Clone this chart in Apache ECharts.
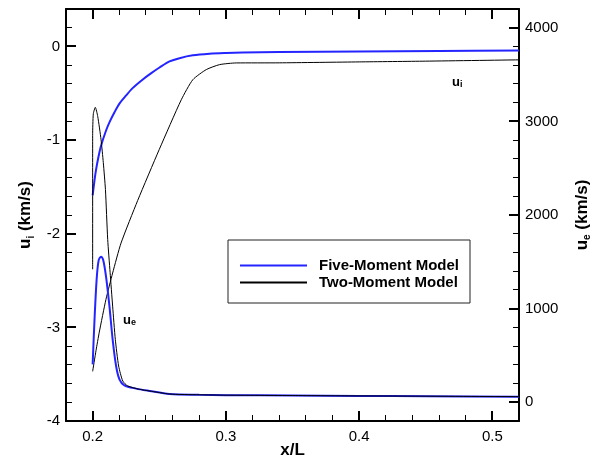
<!DOCTYPE html>
<html>
<head>
<meta charset="utf-8">
<script src="https://cdn.jsdelivr.net/npm/echarts@6/dist/echarts.min.js"></script>
<style>
html,body{margin:0;padding:0;background:#fff;}
#chart{width:602px;height:463px;background:#fff;}
</style>
</head>
<body>
<div id="chart"></div>
<script>
// ---- tick values ----
const xTickValues = [0.2, 0.3, 0.4, 0.5];
const xMinorTickValues = [0.18, 0.2, 0.22, 0.24, 0.26, 0.28, 0.3, 0.32, 0.34, 0.36, 0.38, 0.4, 0.42, 0.44, 0.46, 0.48, 0.5, 0.52];
const uiTickValues = [-4, -3, -2, -1, 0];
const uiMinorTickValues = [-4, -3.8, -3.6, -3.4, -3.2, -3, -2.8, -2.6, -2.4, -2.2, -2, -1.8, -1.6, -1.4, -1.2, -1, -0.8, -0.6, -0.4, -0.2, 0, 0.2, 0.4];
const ueTickValues = [0, 1000, 2000, 3000, 4000];
const ueMinorTickValues = [-200, 0, 200, 400, 600, 800, 1000, 1200, 1400, 1600, 1800, 2000, 2200, 2400, 2600, 2800, 3000, 3200, 3400, 3600, 3800, 4000, 4200];

// ---- series names ----
const seriesNames = ['Five-Moment Model', 'Two-Moment Model'];

// ---- Five-Moment u_i (km/s), left axis ----
const fiveUiX = [0.2, 0.2013, 0.2025, 0.2045, 0.2063, 0.2100, 0.2126, 0.2165, 0.2201, 0.2250, 0.2300, 0.2374, 0.2440, 0.2502, 0.2577, 0.2652, 0.2752, 0.2877, 0.3000, 0.3126, 0.3400, 0.4000, 0.4600, 0.5200];
const fiveUiY = [-1.59, -1.44, -1.32, -1.17, -1.06, -0.90, -0.81, -0.70, -0.61, -0.525, -0.445, -0.355, -0.285, -0.225, -0.16, -0.125, -0.095, -0.078, -0.070, -0.065, -0.060, -0.053, -0.048, -0.043];

// ---- Two-Moment u_i (km/s), left axis ----
const twoUiX = [0.2, 0.2025, 0.205, 0.21, 0.215, 0.2213, 0.2338, 0.2500, 0.2665, 0.2752, 0.2853, 0.2953, 0.3078, 0.34, 0.40, 0.45, 0.52];
const twoUiY = [-3.47, -3.25, -3.05, -2.70, -2.42, -2.10, -1.645, -1.10, -0.57, -0.355, -0.247, -0.194, -0.176, -0.175, -0.165, -0.157, -0.143];

// ---- Five-Moment u_e (km/s), right axis ----
const fiveUeX = [0.2, 0.2013, 0.203, 0.2045, 0.2063, 0.208, 0.21, 0.2126, 0.215, 0.2176, 0.2201, 0.2238, 0.2326, 0.2426, 0.2577, 0.28, 0.30, 0.35, 0.40, 0.45, 0.52];
const fiveUeY = [405, 850, 1312, 1515, 1555, 1515, 1347, 1027, 672, 387, 245, 181, 146, 121, 88, 80, 76, 72, 68, 65, 60];

// ---- Two-Moment u_e (km/s), right axis ----
const twoUeX = [0.2, 0.2, 0.2005, 0.202, 0.2038, 0.2063, 0.208, 0.2096, 0.2113, 0.2131, 0.215, 0.217, 0.2195, 0.2226, 0.2263, 0.235, 0.2426, 0.2577, 0.28, 0.30, 0.35, 0.40, 0.45, 0.52];
const twoUeY = [1420, 2850, 3080, 3150, 3054, 2805, 2560, 2272, 1739, 1387, 1027, 672, 387, 227, 174, 139, 121, 88, 80, 76, 72, 68, 65, 60];

const pairs = (xs, ys) => xs.map((x, i) => [x, ys[i]]);

const FONT = '"Liberation Sans", Arial, Helvetica, sans-serif';
const BLUE = '#2424ff';
const X_MIN = 0.18, X_MAX = 0.52;
const UI_MIN = -4, UI_MAX = 0.4;
const UE_MIN = -200, UE_MAX = 4200;

const chart = echarts.init(document.getElementById('chart'));

const axisLineStyle = {show: true, onZero: false, lineStyle: {color: '#000', width: 2}};

const nameRich = {
  a: {fontFamily: FONT, fontSize: 17, fontWeight: 'bold', color: '#000', lineHeight: 20},
  b: {fontFamily: FONT, fontSize: 10, fontWeight: 'bold', color: '#000', lineHeight: 8, verticalAlign: 'bottom'}
};
const labelRich = {
  a: {fontFamily: FONT, fontSize: 13, fontWeight: 'bold', fill: '#000', lineHeight: 14},
  b: {fontFamily: FONT, fontSize: 9, fontWeight: 'bold', fill: '#000', lineHeight: 5, verticalAlign: 'bottom'}
};

const option = {
  animation: false,
  grid: {left: 66, right: 83, top: 9, bottom: 42, containLabel: false, outerBoundsMode: 'none'},
  xAxis: [
    {
      type: 'value', position: 'bottom', min: X_MIN, max: X_MAX,
      axisLine: axisLineStyle,
      axisTick: {show: false},
      axisLabel: {show: true, customValues: xTickValues, formatter: v => v.toFixed(1), fontFamily: FONT, fontSize: 15, color: '#000', margin: 8},
      splitLine: {show: false},
      name: 'x/L', nameLocation: 'middle', nameGap: 21, nameMoveOverlap: false,
      nameTextStyle: {fontFamily: FONT, fontSize: 17, fontWeight: 'bold', color: '#000'}
    },
    {
      type: 'value', position: 'top', min: X_MIN, max: X_MAX,
      axisLine: axisLineStyle,
      axisTick: {show: false},
      axisLabel: {show: false},
      splitLine: {show: false}
    }
  ],
  yAxis: [
    {
      type: 'value', position: 'left', min: UI_MIN, max: UI_MAX,
      axisLine: axisLineStyle,
      axisTick: {show: false},
      axisLabel: {show: true, customValues: uiTickValues, formatter: v => String(v), fontFamily: FONT, fontSize: 15, color: '#000', margin: 6},
      splitLine: {show: false},
      name: '{a|u}{b|i}{a| (km/s)}',
      nameLocation: 'middle', nameGap: 30, nameRotate: 90,
      nameTextStyle: {rich: nameRich}
    },
    {
      type: 'value', position: 'right', min: UE_MIN, max: UE_MAX,
      axisLine: axisLineStyle,
      axisTick: {show: false},
      axisLabel: {show: true, customValues: ueTickValues, formatter: v => String(v), fontFamily: FONT, fontSize: 15, color: '#000', margin: 6},
      splitLine: {show: false},
      name: '{a|u}{b|e}{a| (km/s)}',
      nameLocation: 'middle', nameGap: 53, nameRotate: 90,
      nameTextStyle: {rich: nameRich}
    }
  ],
  legend: {
    show: true,
    data: seriesNames,
    orient: 'vertical',
    left: 228, top: 240,
    padding: [18, 11, 13, 11],
    itemWidth: 67, itemHeight: 14, itemGap: 2,
    borderColor: '#222', borderWidth: 1, backgroundColor: '#fff',
    selectedMode: false,
    itemStyle: {opacity: 0, borderWidth: 0},
    textStyle: {fontFamily: FONT, fontSize: 15, fontWeight: 'bold', color: '#000', padding: [0, 0, 0, 7]}
  },
  series: [
    {
      name: seriesNames[0], type: 'line', xAxisIndex: 0, yAxisIndex: 0,
      data: pairs(fiveUiX, fiveUiY), symbol: 'none', smooth: 0.3,
      lineStyle: {color: BLUE, width: 2}, itemStyle: {color: BLUE}
    },
    {
      name: seriesNames[1], type: 'line', xAxisIndex: 0, yAxisIndex: 0,
      data: pairs(twoUiX, twoUiY), symbol: 'none', smooth: 0.2,
      lineStyle: {color: '#000', width: 1}, itemStyle: {color: '#000'}
    },
    {
      name: seriesNames[0], type: 'line', xAxisIndex: 0, yAxisIndex: 1,
      data: pairs(fiveUeX, fiveUeY), symbol: 'none', smooth: 0.3,
      lineStyle: {color: BLUE, width: 2}, itemStyle: {color: BLUE}
    },
    {
      name: seriesNames[1], type: 'line', xAxisIndex: 0, yAxisIndex: 1,
      data: pairs(twoUeX, twoUeY), symbol: 'none', smooth: 0.2,
      lineStyle: {color: '#000', width: 1}, itemStyle: {color: '#000'}
    }
  ]
};

chart.setOption(option);

// ---- tick marks (filled rects on their own layer) placed through the chart's axis scales ----
const GRID = {left: 66, top: 9, right: 602 - 83, bottom: 463 - 42};
function conv(finder, v, lo, hi, pLo, pHi) {
  const p = Number(chart.convertToPixel(finder, v));
  return isFinite(p) ? p : pLo + (v - lo) / (hi - lo) * (pHi - pLo);
}
const px = v => conv({xAxisIndex: 0}, v, X_MIN, X_MAX, GRID.left, GRID.right);
const pyL = v => conv({yAxisIndex: 0}, v, UI_MIN, UI_MAX, GRID.bottom, GRID.top);
const pyR = v => conv({yAxisIndex: 1}, v, UE_MIN, UE_MAX, GRID.bottom, GRID.top);
const gLeft = px(X_MIN), gRight = px(X_MAX), gTop = pyL(UI_MAX), gBottom = pyL(UI_MIN);

const els = [];
function tickRect(x, y, w, h) {
  els.push({type: 'rect', zlevel: 1, z: 10, shape: {x: x, y: y, width: w, height: h}, style: {fill: '#000'}});
}
function addX(values, len, w) {
  values.forEach(v => {
    const x = Math.round(px(v) - w / 2);
    tickRect(x, gBottom - len, w, len);
    tickRect(x, gTop, w, len);
  });
}
function addY(values, convY, side, len, w) {
  values.forEach(v => {
    const y = Math.round(convY(v) - w / 2);
    if (side === 'left') tickRect(gLeft, y, len, w);
    else tickRect(gRight - len, y, len, w);
  });
}
addX(xMinorTickValues, 6, 1);
addX(xTickValues, 10, 2);
addY(uiMinorTickValues, pyL, 'left', 6, 1);
addY(uiTickValues, pyL, 'left', 10, 2);
addY(ueMinorTickValues, pyR, 'right', 6, 1);
addY(ueTickValues, pyR, 'right', 10, 2);

els.push({type: 'text', x: 452, y: 75, style: {text: '{a|u}{b|i}', rich: labelRich}});
els.push({type: 'text', x: 123, y: 313, style: {text: '{a|u}{b|e}', rich: labelRich}});

chart.setOption({graphic: {elements: els}});
</script>
</body>
</html>
